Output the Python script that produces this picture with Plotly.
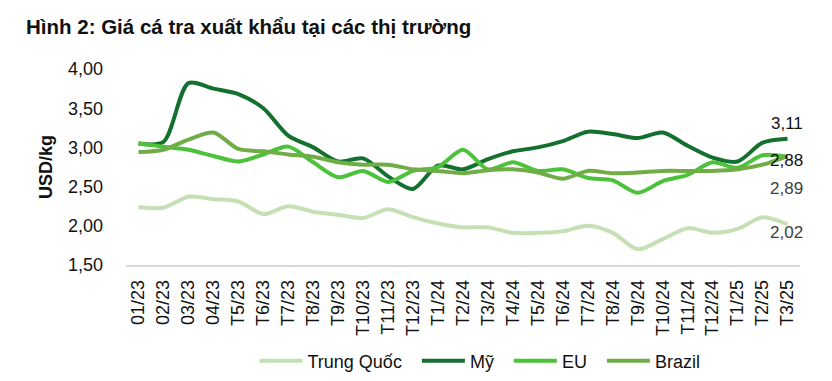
import plotly.graph_objects as go

categories = ["01/23", "02/23", "03/23", "04/23", "T5/23", "T6/23", "T7/23", "T8/23", "T9/23",
              "T10/23", "T11/23", "T12/23", "T1/24", "T2/24", "T3/24", "T4/24", "T5/24", "T6/24",
              "T7/24", "T8/24", "T9/24", "T10/24", "T11/24", "T12/24", "T1/25", "T2/25", "T3/25"]

trung_quoc = [2.24, 2.23, 2.37, 2.34, 2.31, 2.15, 2.25, 2.18, 2.14, 2.10, 2.21, 2.11, 2.03,
              1.98, 1.98, 1.91, 1.91, 1.93, 2.00, 1.91, 1.70, 1.83, 1.97, 1.91, 1.96, 2.11, 2.02]
my = [3.05, 3.07, 3.82, 3.75, 3.68, 3.50, 3.15, 3.00, 2.82, 2.86, 2.63, 2.47, 2.77,
      2.72, 2.85, 2.95, 3.00, 3.08, 3.20, 3.17, 3.12, 3.19, 3.02, 2.87, 2.82, 3.06, 3.11]
eu = [3.05, 3.01, 2.97, 2.89, 2.82, 2.91, 3.01, 2.81, 2.62, 2.70, 2.56, 2.70, 2.75,
      2.97, 2.72, 2.81, 2.70, 2.72, 2.61, 2.58, 2.42, 2.57, 2.65, 2.81, 2.74, 2.90, 2.88]
brazil = [2.94, 2.97, 3.10, 3.19, 2.98, 2.95, 2.91, 2.88, 2.81, 2.78, 2.78, 2.72, 2.70,
          2.67, 2.71, 2.72, 2.68, 2.60, 2.70, 2.67, 2.68, 2.70, 2.70, 2.70, 2.72, 2.78, 2.89]

series = [
    ("Trung Quốc", trung_quoc, "#c5e0b4", -8, "#404040"),
    ("Mỹ", my, "#13702f", 15, "#111111"),
    ("EU", eu, "#4cc23a", -4, "#111111"),
    ("Brazil", brazil, "#70ad47", -32, "#404040"),
]

FONT = "Arial, Liberation Sans, sans-serif"
# The page body has an 8px default margin, so the figure is 8px smaller and all
# positions below are the reference positions minus 8px.
W, H = 824, 373

fig = go.Figure()
for name, vals, color, _, _ in series:
    fig.add_trace(go.Scatter(
        x=categories, y=vals, name=name + "&nbsp;&nbsp;", mode="lines",
        line=dict(color=color, width=4, shape="spline", smoothing=0.8),
    ))

for name, vals, color, yshift, tcolor in series:
    fig.add_annotation(
        x=categories[-1], y=vals[-1], text=f"{vals[-1]:.2f}".replace(".", ","),
        showarrow=False, xshift=-1, yshift=yshift, xanchor="center", yanchor="middle",
        font=dict(family=FONT, size=17, color=tcolor),
    )

fig.update_layout(
    width=W, height=H,
    margin=dict(l=118, r=32, t=61, b=116),
    paper_bgcolor="white", plot_bgcolor="white",
    separators=",.",
    font=dict(family=FONT, color="#111111"),
    title=dict(text="<b>Hình 2: Giá cá tra xuất khẩu tại các thị trường</b>",
               x=18 / W, xanchor="left", xref="container",
               y=1 - 19 / H, yanchor="middle", yref="container",
               font=dict(family=FONT, size=20.5, color="#111111")),
    showlegend=True,
    legend=dict(orientation="h", x=477 / W, xanchor="center", xref="container",
                y=1 - 353 / H, yanchor="middle", yref="container", itemwidth=43,
                font=dict(family=FONT, size=18, color="#111111"), bgcolor="rgba(0,0,0,0)"),
    xaxis=dict(type="category", showgrid=False, showline=True, linecolor="#d9d9d9", linewidth=1.5,
               ticks="", tickangle=-90, tickfont=dict(family=FONT, size=18, color="#111111"),
               ticklabelstandoff=6, automargin=False,
               range=[-0.5, len(categories) - 0.5]),
    yaxis=dict(range=[1.5, 4.0], tickvals=[1.5, 2.0, 2.5, 3.0, 3.5, 4.0], tickformat=".2f",
               showgrid=False, showline=False, zeroline=False, ticks="", automargin=False,
               tickfont=dict(family=FONT, size=18, color="#111111"), ticklabelstandoff=22,
               title=dict(text="<b>USD/kg</b>", standoff=10, font=dict(family=FONT, size=18, color="#111111"))),
)

fig.write_html("out.html")
